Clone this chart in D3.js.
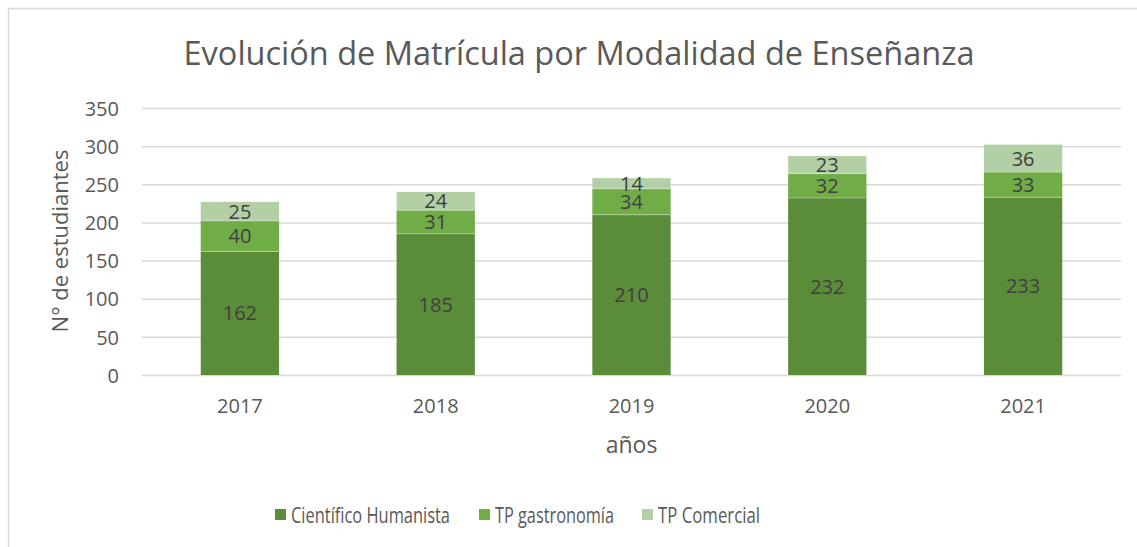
<!DOCTYPE html>
<html><head><meta charset="utf-8">
<script src="https://cdn.jsdelivr.net/npm/d3@7"></script>
<style>
html,body{margin:0;padding:0;background:#fff;}
svg{display:block;font-family:"Open Sans","Noto Sans",sans-serif;}
</style></head>
<body>
<svg id="chart" width="1137" height="547"></svg>
<script>
const categories = ["2017","2018","2019","2020","2021"];
const seriesNames = ["Científico Humanista","TP gastronomía","TP Comercial"];
const cientificoHumanista = [162,185,210,232,233];
const tpGastronomia = [40,31,34,32,33];
const tpComercial = [25,24,14,23,36];
const yTicks = [0,50,100,150,200,250,300,350];
const colors = ["#5b8c39","#70ad47","#b3cfa5"];
const chartTitle = "Evolución de Matrícula por Modalidad de Enseñanza";
const xTitle = "años";
const yTitle = "N° de estudiantes";

const svg = d3.select("#chart");
svg.append("rect").attr("x",8.5).attr("y",8.5).attr("width",1140).attr("height",560)
  .attr("fill","#fff").attr("stroke","#d9d9d9").attr("stroke-width",1.5);

const pLeft=142, pRight=1121, pTop=108, pBottom=375;
const x = d3.scaleBand().domain(categories).range([pLeft,pRight]).paddingInner(0.6).paddingOuter(0.3);
const y = d3.scaleLinear().domain([0,350]).range([pBottom,pTop]);

// gridlines
svg.append("g").selectAll("line").data(yTicks).join("line")
  .attr("x1",pLeft).attr("x2",pRight).attr("y1",d=>y(d)+0.5).attr("y2",d=>y(d)+0.5)
  .attr("stroke","#d9d9d9").attr("stroke-width",1.5);

const table = categories.map((c,i)=>({cat:c, s0:cientificoHumanista[i], s1:tpGastronomia[i], s2:tpComercial[i]}));
const stack = d3.stack().keys(["s0","s1","s2"])(table);

stack.forEach((layer,li)=>{
  const g = svg.append("g");
  g.selectAll("rect").data(layer).join("rect")
    .attr("x",d=>x(d.data.cat)).attr("width",x.bandwidth())
    .attr("y",d=>y(d[1])).attr("height",d=>y(d[0])-y(d[1]))
    .attr("fill",colors[li]);
});
// thin separators
stack.slice(1).forEach(layer=>{
  svg.append("g").selectAll("line").data(layer).join("line")
    .attr("x1",d=>x(d.data.cat)).attr("x2",d=>x(d.data.cat)+x.bandwidth())
    .attr("y1",d=>y(d[0])).attr("y2",d=>y(d[0]))
    .attr("stroke","#ffffff").attr("stroke-opacity",0.35).attr("stroke-width",1);
});
stack.forEach((layer,li)=>{
  svg.append("g").selectAll("text").data(layer).join("text")
    .attr("x",d=>x(d.data.cat)+x.bandwidth()/2)
    .attr("y",d=>(y(d[0])+y(d[1]))/2)
    .attr("dy","0.36em").attr("text-anchor","middle")
    .attr("font-size",20).attr("fill","#404040")
    .text(d=>d[1]-d[0]);
});

// y axis labels
const yAxis = d3.axisLeft(y).tickValues(yTicks).tickSize(0).tickPadding(0);
const ya = svg.append("g").attr("transform",`translate(119,0)`).call(yAxis);
ya.select(".domain").remove();
ya.selectAll("text").attr("font-size",20).attr("fill","#595959").attr("font-family","'Open Sans',sans-serif").attr("dy","0.36em");

const xAxis = d3.axisBottom(x).tickSize(0).tickPadding(0);
const xa = svg.append("g").attr("transform",`translate(0,${pBottom})`).call(xAxis);
xa.select(".domain").remove();
xa.selectAll("text").attr("font-size",20).attr("fill","#595959").attr("font-family","'Open Sans',sans-serif").attr("y",38).attr("dy","0");

svg.append("text").attr("x",(pLeft+pRight)/2).attr("y",453).attr("text-anchor","middle")
  .attr("font-size",23).attr("fill","#595959").text(xTitle);
svg.append("text").attr("transform","translate(68,241) rotate(-90)").attr("text-anchor","middle")
  .attr("font-size",22).attr("fill","#595959").text(yTitle);

svg.append("text").attr("x",579).attr("y",65).attr("text-anchor","middle")
  .attr("font-size",32.5).attr("fill","#595959").text(chartTitle);

// legend
const legendX = [275,479,642];
const legendW = [159,119,102];
const lg = svg.append("g");
seriesNames.forEach((n,i)=>{
  lg.append("rect").attr("x",legendX[i]).attr("y",509).attr("width",11).attr("height",11).attr("fill",colors[i]);
  lg.append("text").attr("x",legendX[i]+16).attr("y",523).attr("font-size",21).attr("fill","#595959")
    .attr("textLength",legendW[i]).attr("lengthAdjust","spacingAndGlyphs").text(n);
});
</script>
</body></html>
